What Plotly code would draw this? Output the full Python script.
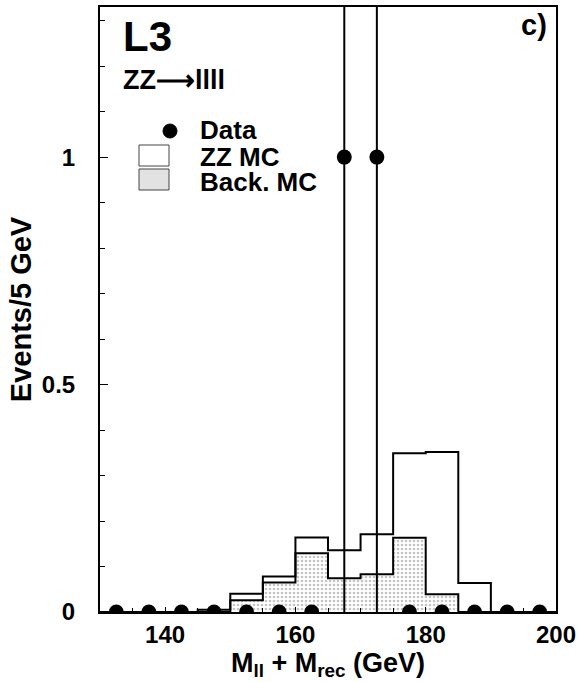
import plotly.graph_objects as go

# ---- data ----
bin_edges = [130, 135, 140, 145, 150, 155, 160, 165, 170, 175, 180, 185, 190, 195, 200]
bin_centers = [132.5, 137.5, 142.5, 147.5, 152.5, 157.5, 162.5, 167.5, 172.5, 177.5, 182.5, 187.5, 192.5, 197.5]
zz_total = [0, 0, 0, 0.005, 0.040, 0.078, 0.164, 0.136, 0.171, 0.349, 0.352, 0.064, 0, 0]
back_mc = [0, 0, 0, 0, 0.026, 0.065, 0.129, 0.074, 0.083, 0.163, 0.039, 0, 0, 0]
data_vals = [0, 0, 0, 0, 0, 0, 0, 1, 1, 0, 0, 0, 0, 0]
data_err = [0, 0, 0, 0, 0, 0, 0, 1, 1, 0, 0, 0, 0, 0]
y_tickvals = [0, 0.5, 1]
y_ticktext = ["0", "0.5", "1"]
x_tickvals = [140, 160, 180, 200]

FONT = "Liberation Sans"

fig = go.Figure()

# background MC (stippled)
fig.add_trace(go.Scatter(
    x=bin_edges, y=back_mc + [back_mc[-1]],
    mode="lines", line=dict(shape="hv", color="black", width=2),
    fill="tozeroy", fillcolor="rgba(0,0,0,0)",
    fillpattern=dict(shape=".", fgcolor="#8a8a8a", bgcolor="white", size=4, solidity=0.35),
    hoverinfo="skip", showlegend=False))

# ZZ MC (stacked total outline)
fig.add_trace(go.Scatter(
    x=bin_edges, y=zz_total + [zz_total[-1]],
    mode="lines", line=dict(shape="hv", color="black", width=2),
    hoverinfo="skip", showlegend=False))

# data
fig.add_trace(go.Scatter(
    x=bin_centers, y=data_vals, mode="markers", cliponaxis=True,
    marker=dict(color="black", size=15, symbol="circle"),
    error_y=dict(type="data", array=data_err, color="black", thickness=2, width=0),
    showlegend=False))

# legend / labels as annotations
def pxx(x):
    return (x - 100) / 456.0

def pxy(y):
    return (612 - y) / 605.0

ann = [
    dict(text="<b>L3</b>", x=pxx(121), y=pxy(36), size=42, xanchor="left"),
    dict(text="<b>ZZ⟶llll</b>", x=pxx(121), y=pxy(80), size=27, xanchor="left"),
    dict(text="<b>Data</b>", x=pxx(198), y=pxy(130), size=26, xanchor="left"),
    dict(text="<b>ZZ MC</b>", x=pxx(198), y=pxy(157), size=26, xanchor="left"),
    dict(text="<b>Back. MC</b>", x=pxx(198), y=pxy(182), size=26, xanchor="left"),
    dict(text="<b>c)</b>", x=pxx(549), y=pxy(25), size=29, xanchor="right"),
]
annotations = []
for a in ann:
    annotations.append(dict(text=a["text"], x=a["x"], y=a["y"], xref="paper", yref="paper",
                            xanchor=a["xanchor"], yanchor="middle", showarrow=False,
                            font=dict(family=FONT, size=a["size"], color="black")))

shapes = [
    dict(type="circle", xref="paper", yref="paper",
         x0=pxx(163), x1=pxx(177), y0=pxy(138), y1=pxy(124),
         fillcolor="black", line=dict(color="black", width=1)),
    dict(type="rect", xref="paper", yref="paper",
         x0=pxx(139), x1=pxx(169), y0=pxy(166), y1=pxy(145),
         fillcolor="white", line=dict(color="#444", width=1)),
    dict(type="rect", xref="paper", yref="paper",
         x0=pxx(139), x1=pxx(169), y0=pxy(190), y1=pxy(169),
         fillcolor="#e2e2e2", line=dict(color="#444", width=1)),
]

fig.update_layout(
    width=579, height=682,
    margin=dict(l=100, r=23, t=7, b=70, autoexpand=False),
    paper_bgcolor="white", plot_bgcolor="white",
    font=dict(family=FONT, color="black"),
    showlegend=False,
    annotations=annotations,
    shapes=shapes,
    xaxis=dict(
        range=[130, 200], tickvals=x_tickvals, ticktext=[str(v) for v in x_tickvals],
        ticks="inside", ticklen=5, tickwidth=1, tickcolor="black",
        minor=dict(dtick=5, tick0=130, ticks="inside", ticklen=4, tickcolor="black"),
        showline=True, linecolor="black", linewidth=2, mirror=True,
        showgrid=False, zeroline=False, automargin=False,
        tickfont=dict(family=FONT, size=24, color="black", weight="bold"),
        title=dict(text="M<sub>ll</sub> + M<sub>rec</sub> (GeV)", standoff=0,
                   font=dict(family=FONT, size=27, color="black", weight="bold")),
    ),
    yaxis=dict(
        range=[0, 1.33], tickvals=y_tickvals, ticktext=y_ticktext,
        ticks="inside", ticklen=8, tickwidth=1, tickcolor="black",
        minor=dict(dtick=0.1, tick0=0, ticks="inside", ticklen=5, tickcolor="black"),
        showline=True, linecolor="black", linewidth=2, mirror=True,
        showgrid=False, zeroline=False, automargin=False,
        ticklabelstandoff=18,
        tickfont=dict(family=FONT, size=24, color="black", weight="bold"),
        title=dict(text="Events/5 GeV", standoff=2,
                   font=dict(family=FONT, size=29, color="black", weight="bold")),
    ),
)

fig.write_html("out.html", config={"displayModeBar": False},
               post_script="document.body.style.margin='0';document.body.style.padding='0';")
